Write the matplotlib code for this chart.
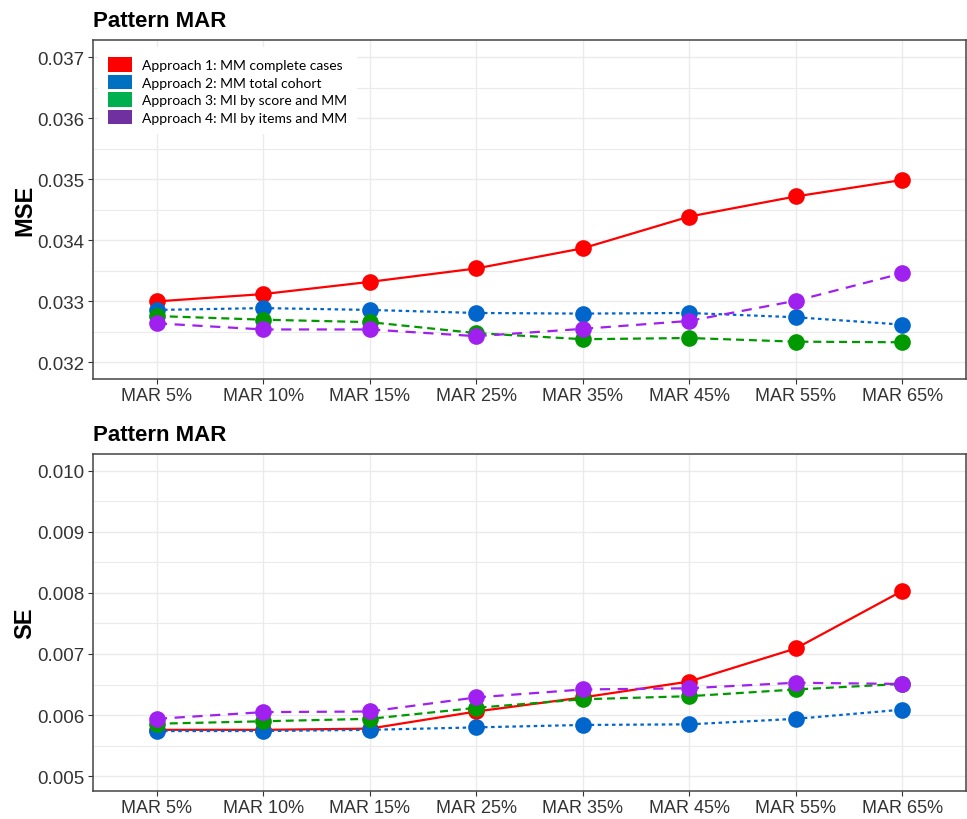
import matplotlib
matplotlib.use("Agg")
import matplotlib.pyplot as plt
from matplotlib.patches import Patch
from matplotlib.ticker import MultipleLocator

plt.rcParams["font.family"] = ["Liberation Sans", "DejaVu Sans"]

# categories on the x axis
scenarios = ["MAR 5%", "MAR 10%", "MAR 15%", "MAR 25%",
             "MAR 35%", "MAR 45%", "MAR 55%", "MAR 65%"]

approaches = ["Approach 1: MM complete cases",
              "Approach 2: MM total cohort",
              "Approach 3: MI by score and MM",
              "Approach 4: MI by items and MM"]

# mean squared error per approach
mse_a1 = [0.03300, 0.03312, 0.03332, 0.03354, 0.03387, 0.03439, 0.03472, 0.03499]
mse_a2 = [0.03286, 0.03289, 0.03286, 0.03281, 0.03280, 0.03281, 0.03274, 0.03262]
mse_a3 = [0.03276, 0.03270, 0.03266, 0.03248, 0.03238, 0.03240, 0.03234, 0.03233]
mse_a4 = [0.03264, 0.03254, 0.03254, 0.03243, 0.03255, 0.03268, 0.03301, 0.03346]

# standard error per approach
se_a1 = [0.00576, 0.00576, 0.00578, 0.00606, 0.00629, 0.00655, 0.00709, 0.00803]
se_a2 = [0.00574, 0.00574, 0.00576, 0.00580, 0.00584, 0.00585, 0.00594, 0.00609]
se_a3 = [0.00586, 0.00590, 0.00594, 0.00612, 0.00626, 0.00631, 0.00642, 0.00651]
se_a4 = [0.00594, 0.00605, 0.00606, 0.00629, 0.00642, 0.00644, 0.00653, 0.00651]

line_colors = ["#FF0000", "#0066CC", "#009A00", "#A020F0"]
key_colors = ["#FF0000", "#0070C0", "#00B050", "#7030A0"]
styles = ["-", (0, (1.6, 1.6)), (0, (3.6, 2.2)), (0, (4.6, 3.4))]

W, H = 967, 820
fig = plt.figure(figsize=(W / 100, H / 100), dpi=100)


def panel(top, bottom, series, ylim, major, minor, ylabel):
    ax = fig.add_axes([93 / W, 1 - bottom / H, 873 / W, (bottom - top) / H])
    x = range(len(scenarios))
    for vals, c, ls in zip(series, line_colors, styles):
        ax.plot(x, vals, color=c, lw=1.6, ls=ls, zorder=3)
    for vals, c in zip(series, line_colors):
        ax.plot(x, vals, ls="none", marker="o", ms=12, color=c,
                markeredgewidth=0, zorder=4)
    ax.set_xlim(-0.6, 7.6)
    ax.set_ylim(*ylim)
    ax.set_xticks(list(x))
    ax.set_xticklabels(scenarios)
    ax.yaxis.set_major_locator(MultipleLocator(major))
    ax.yaxis.set_minor_locator(MultipleLocator(minor))
    ax.yaxis.set_major_formatter(lambda v, p: f"{v:.3f}")
    ax.grid(True, which="major", color="#EBEBEB", lw=1.0, zorder=0)
    ax.grid(True, which="minor", axis="y", color="#EBEBEB", lw=0.8, zorder=0)
    ax.tick_params(axis="both", which="major", length=3.5, width=0.8,
                   color="#333333", labelcolor="#333333", labelsize=13.5, pad=2.5)
    ax.tick_params(axis="x", labelsize=13)
    ax.tick_params(which="minor", length=0)
    for s in ax.spines.values():
        s.set_color("#444444")
        s.set_linewidth(1.1)
    ax.set_axisbelow(True)
    fig.text(93 / W, 1 - (top - 9) / H, "Pattern MAR", fontsize=16,
             fontweight="bold", ha="left", va="bottom")
    fig.text(25 / W, 1 - (top + bottom) / 2 / H, ylabel, fontsize=17,
             fontweight="bold", rotation=90, ha="center", va="center")
    return ax


ax1 = panel(41, 380, [mse_a1, mse_a2, mse_a3, mse_a4],
            (0.031728, 0.037284), 0.001, 0.0005, "MSE")
ax2 = panel(455, 792, [se_a1, se_a2, se_a3, se_a4],
            (0.00476, 0.01027), 0.001, 0.0005, "SE")

handles = [Patch(facecolor=c, edgecolor="none") for c in key_colors]
leg = ax1.legend(handles, approaches, loc="upper left",
                 bbox_to_anchor=(0.006, 0.978), borderaxespad=0,
                 prop={"family": ["Lato", "DejaVu Sans"], "size": 10},
                 frameon=True, fancybox=False, borderpad=0.7,
                 handlelength=1.7, handleheight=1.25, handletextpad=0.75,
                 labelspacing=0.2)
leg.get_frame().set_edgecolor("none")
leg.get_frame().set_facecolor("white")
leg.get_frame().set_alpha(1)
leg.set_zorder(5)

fig.savefig("out.png", dpi=100)
